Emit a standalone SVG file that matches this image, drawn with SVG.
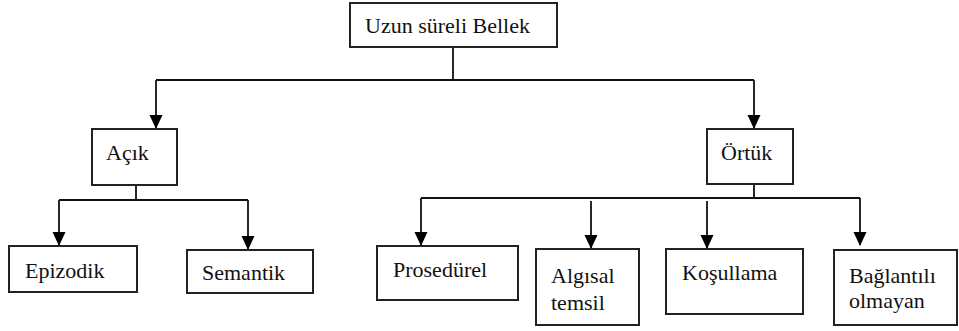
<svg xmlns="http://www.w3.org/2000/svg" width="959" height="331" viewBox="0 0 959 331">
<style>
.box{fill:#fff;stroke:#222;stroke-width:2}
.t{font-family:'Liberation Serif',Tinos,'Times New Roman','DejaVu Serif',serif;font-size:22px;fill:#111}
.c{fill:none;stroke:#111;stroke-width:1.8}
</style>
<defs>
<marker id="ah" markerUnits="userSpaceOnUse" markerWidth="14" markerHeight="16" refX="13" refY="6.5" orient="auto">
<path d="M0,0 L14,6.5 L0,13 Z" fill="#000"/>
</marker>
</defs>
<rect width="959" height="331" fill="#fff"/>
<g id="connectors">
<path class="c" d="M453,47 V80 M156,80 H754"/>
<path class="c" d="M156,80 V128" marker-end="url(#ah)"/>
<path class="c" d="M754,80 V128" marker-end="url(#ah)"/>
<path class="c" d="M136,185 V200 M59,200 H248"/>
<path class="c" d="M59,200 V245" marker-end="url(#ah)"/>
<path class="c" d="M248,200 V249" marker-end="url(#ah)"/>
<path class="c" d="M754,184 V198 M421,198 H860"/>
<path class="c" d="M421,198 V245" marker-end="url(#ah)"/>
<path class="c" d="M591,201 V248" marker-end="url(#ah)"/>
<path class="c" d="M707,201 V248" marker-end="url(#ah)"/>
<path class="c" d="M860,198 V245" marker-end="url(#ah)"/>
</g>
<g id="uzun"><rect class="box" x="350" y="3" width="207" height="44"/><text class="t" x="365" y="33" font-family="Liberation Serif, serif">Uzun süreli Bellek</text></g>
<g id="acik"><rect class="box" x="92" y="129" width="85" height="56"/><text class="t" x="106" y="160">Açık</text></g>
<g id="ortuk"><rect class="box" x="707" y="129" width="86" height="55"/><text class="t" x="721" y="160">Örtük</text></g>
<g id="epizodik"><rect class="box" x="9" y="246" width="128" height="46"/><text class="t" x="25" y="278">Epizodik</text></g>
<g id="semantik"><rect class="box" x="187" y="250" width="126" height="43"/><text class="t" x="202" y="280">Semantik</text></g>
<g id="prosedurel"><rect class="box" x="377" y="246" width="141" height="54"/><text class="t" x="393" y="277">Prosedürel</text></g>
<g id="algisal"><rect class="box" x="536" y="249" width="103" height="76"/><text class="t" x="551" y="283">Algısal</text><text class="t" x="551" y="310">temsil</text></g>
<g id="kosullama"><rect class="box" x="666" y="249" width="137" height="65"/><text class="t" x="682" y="280">Koşullama</text></g>
<g id="baglantili"><rect class="box" x="834" y="250" width="123" height="75"/><text class="t" x="849" y="283">Bağlantılı</text><text class="t" x="849" y="308">olmayan</text></g>
</svg>
